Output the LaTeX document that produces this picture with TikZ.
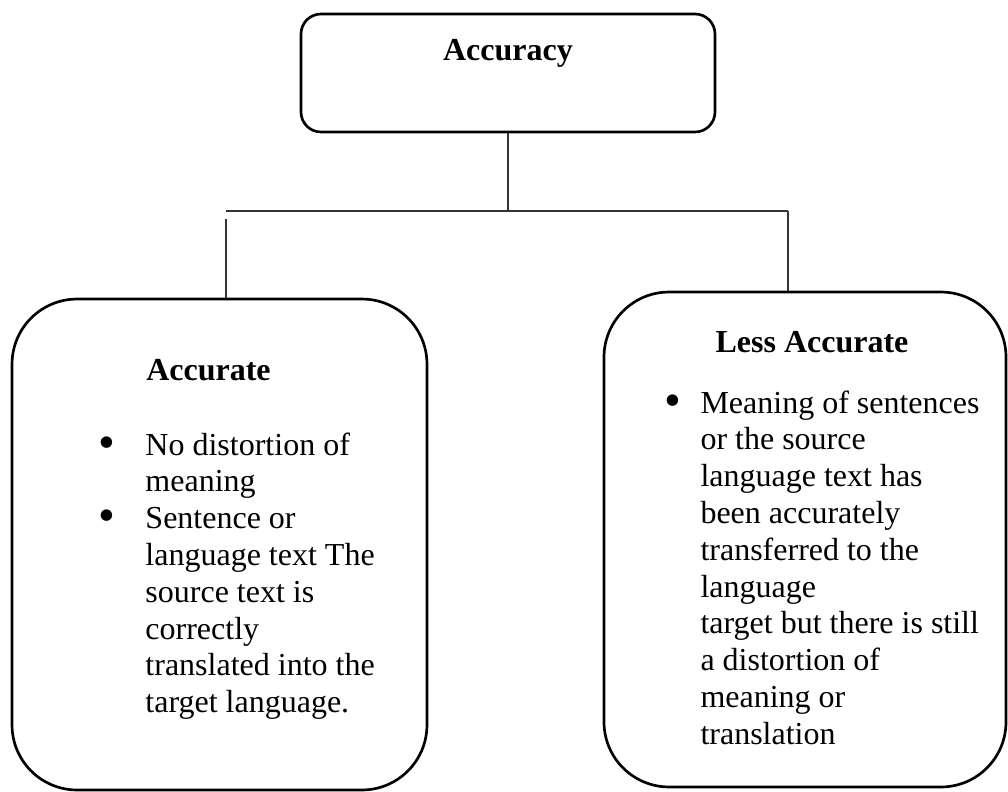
\documentclass[tikz,border=0pt]{standalone}
\usepackage{fontspec}
\setmainfont{Liberation Serif}
\usetikzlibrary{positioning,calc}

\newcommand{\blt}{\raisebox{-1.2pt}{\fontsize{18pt}{18pt}\selectfont\textbullet}}

\begin{document}
\begin{tikzpicture}[
  x=0.375pt, y=-0.375pt,
  font=\fontsize{12pt}{13.8pt}\selectfont,
  box/.style={draw=black, line width=1pt, fill=white},
  topbox/.style={
    box,
    rounded corners=7.5pt,
    minimum width=155.25pt,
    minimum height=44.25pt,
    inner ysep=0pt,
    text height=17.25pt,
    text depth=27pt,
    font=\fontsize{12pt}{13.8pt}\selectfont\bfseries
  },
  leafbox/.style={box, rounded corners=24.4pt},
  head/.style={anchor=base, inner sep=0pt, font=\fontsize{12pt}{13.8pt}\selectfont\bfseries},
  points/.style={anchor=base west, inner sep=0pt, align=left},
  link/.style={line width=.6pt, draw=black!80}
]
\useasboundingbox (0,0) rectangle (1008,791);

\node[topbox] (acc) at (508,73) {Accuracy};
\node[leafbox, minimum width=155.6pt, minimum height=184.1pt] (accurate) at (219.5,544.5) {};
\node[leafbox, minimum width=150.75pt, minimum height=185.6pt] (lessacc) at (805,539.5) {};

\node[head] (accuratehead) at (208.5,380) {Accurate};
\node[points] (accuratelist) at (98,455) {%
  \begin{tabular}[t]{@{}p{17.6pt}@{}l@{}}
    \blt & No distortion of\\
         & meaning\\
    \blt & Sentence or\\
         & language text The\\
         & source text is\\
         & correctly\\
         & translated into the\\
         & target language.
  \end{tabular}};

\node[head] (lessacchead) at (812,352) {Less Accurate};
\node[points] (lessacclist) at (664,413) {%
  \begin{tabular}[t]{@{}p{13.5pt}@{}l@{}}
    \blt & Meaning of sentences\\
         & or the source\\
         & language text has\\
         & been accurately\\
         & transferred to the\\
         & language\\
         & target but there is still\\
         & a distortion of\\
         & meaning or\\
         & translation
  \end{tabular}};

\coordinate (barL) at (226,211);
\coordinate (barR) at (788,211);
\draw[link] (acc.south) -- (acc.south |- barL);
\draw[link] (barL) -- (barR);
\draw[link] ([yshift=-3pt]barL) -- (barL |- accurate.north);
\draw[link] (barR) -- (barR |- lessacc.north);
\end{tikzpicture}
\end{document}
